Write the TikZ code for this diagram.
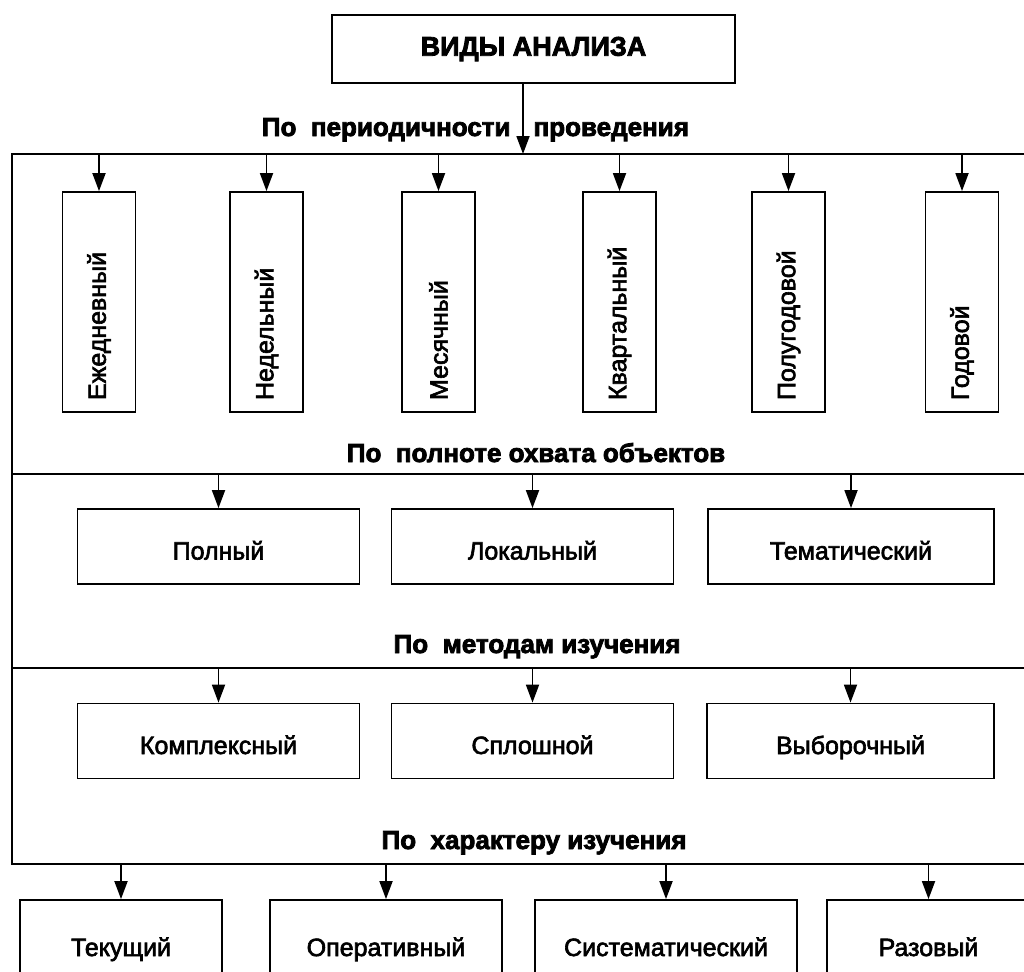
\documentclass[tikz,border=0pt]{standalone}
\usepackage{fontspec}
\setmainfont{Liberation Sans}
\newfontfamily\boxfont{Liberation Sans}[FakeBold=2.5]
\newfontfamily\headfont{Liberation Sans}[BoldFeatures={FakeBold=3}]
\usetikzlibrary{arrows.meta}

\begin{document}
\begin{tikzpicture}[
    x=1pt, y=-1pt,
    every node/.style={font=\boxfont\fontsize{25}{30}\selectfont},
    box/.style={draw, line width=1.8pt, inner sep=0pt},
    vbox/.style={box, rotate=90, minimum width=220pt, minimum height=73pt, text width=196pt, align=left, inner xsep=12pt},
    hbox/.style={box, minimum width=282pt, minimum height=75pt, text height=26pt, text depth=0pt},
    lbox/.style={box, minimum height=86pt, text height=26pt, text depth=0pt},
    head/.style={font=\headfont\bfseries\fontsize{26}{30}\selectfont},
    arrow/.style={-{Triangle[length=18pt,width=13pt]}, line width=1.8pt}
]
\useasboundingbox (0,0) rectangle (1024,971);

% Root node
\node[box, line width=2.8pt, minimum width=403pt, minimum height=68pt, font=\headfont\bfseries\fontsize{27}{30}\selectfont] (title) at (533.5,49) {ВИДЫ АНАЛИЗА};

% Outer frame and the lines between groups
\coordinate (s1) at (523,154);
\coordinate (s2) at (12,474);
\coordinate (s3) at (12,668);
\coordinate (s4) at (12,864);
\draw[line width=1.8pt] (1030,154) -| (s4) -- (1030,864);
\draw[line width=1.8pt] (s2) -- (1030,474);
\draw[line width=1.8pt] (s3) -- (1030,668);

% Group headings
\node[head, anchor=base east] (per1) at (514,136) {По~~периодичности};
\node[head, anchor=base west] (per2) at (530,136) {проведения};
\node[head, anchor=base] (full) at (536,462) {По~~полноте охвата объектов};
\node[head, anchor=base] (meth) at (537,653) {По~~методам изучения};
\node[head, anchor=base] (kind) at (534,849) {По~~характеру изучения};

% By period
\node[vbox] (d1) at (99,302) {Ежедневный};
\node[vbox] (d2) at (266.5,302) {Недельный};
\node[vbox] (d3) at (438.5,302) {Месячный};
\node[vbox] (d4) at (619.5,302) {Квартальный};
\node[vbox] (d5) at (788.5,302) {Полугодовой};
\node[vbox] (d6) at (962,302) {Годовой};

% By coverage
\node[hbox] (c1) at (218.5,546.5) {Полный};
\node[hbox] (c2) at (532.5,546.5) {Локальный};
\node[hbox, minimum width=286pt] (c3) at (851,546.5) {Тематический};

% By method
\node[hbox] (m1) at (218.5,741) {Комплексный};
\node[hbox] (m2) at (532.5,741) {Сплошной};
\node[hbox, minimum width=287pt] (m3) at (850.5,741) {Выборочный};

% By character
\node[lbox, minimum width=202pt] (t1) at (121,943) {Текущий};
\node[lbox, minimum width=232pt] (t2) at (386,943) {Оперативный};
\node[lbox, minimum width=262pt] (t3) at (666,943) {Систематический};
\node[lbox, minimum width=203pt] (t4) at (928.5,943) {Разовый};

% Draw arrows
\draw[arrow] (title.south -| s1) -- (s1);
\foreach \n in {d1,d2,d3,d4,d5,d6}
    \draw[arrow] (\n.east |- s1) -- (\n.east);
\foreach \n in {c1,c2,c3}
    \draw[arrow] (\n.north |- s2) -- (\n.north);
\foreach \n in {m1,m2,m3}
    \draw[arrow] (\n.north |- s3) -- (\n.north);
\foreach \n in {t1,t2,t3,t4}
    \draw[arrow] (\n.north |- s4) -- (\n.north);

\end{tikzpicture}
\end{document}
